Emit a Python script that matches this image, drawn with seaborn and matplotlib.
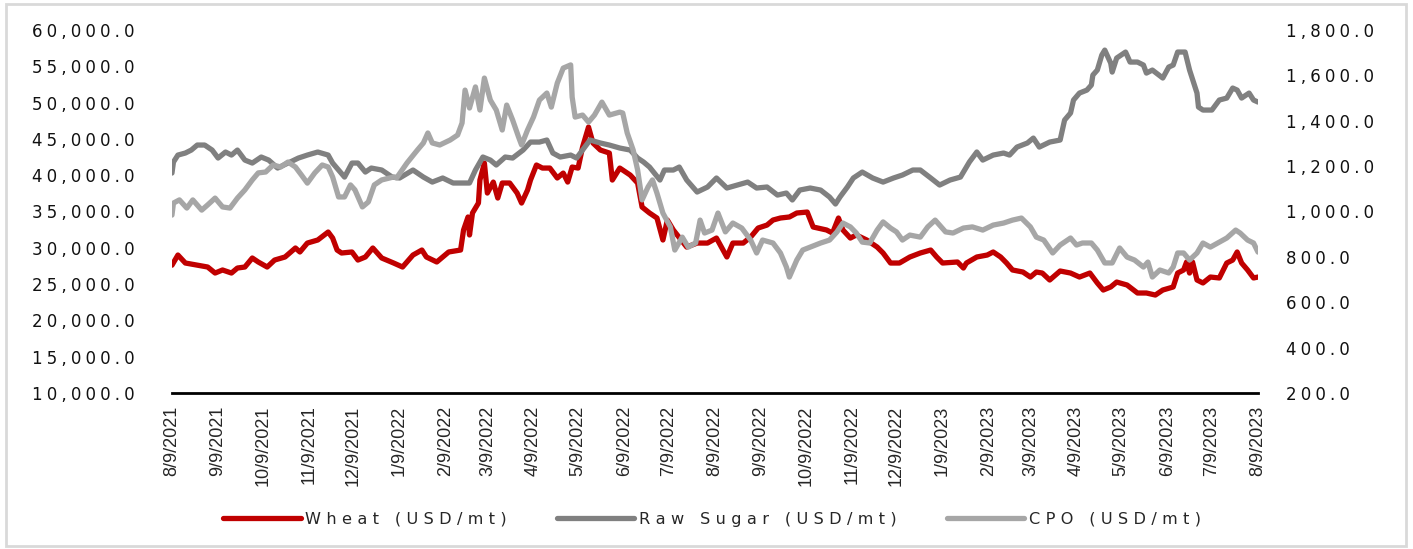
import pandas as pd
import matplotlib
matplotlib.use("Agg")
import matplotlib.pyplot as plt
import matplotlib.dates as mdates
from matplotlib.ticker import FuncFormatter, MultipleLocator
from matplotlib.patches import Rectangle
import seaborn as sns

# x values are days counted from the first date on the axis
start = pd.Timestamp("2021-08-09")
end = pd.Timestamp("2023-08-09")

wheat_day = [0, 4, 9, 17, 24, 29, 34, 40, 44, 49, 54, 58, 64, 69, 76, 83, 86, 91, 98, 105,
             108, 111, 114, 121, 125, 130, 135, 141, 149, 155, 162, 168, 171, 178, 186, 194,
             196, 199, 200, 202, 206, 207, 210, 212, 216, 219, 222, 227, 232, 235, 239, 241,
             245, 249, 254, 259, 263, 266, 269, 273, 276, 280, 283, 288, 294, 296, 301, 308,
             313, 316, 321, 326, 330, 333, 337, 346, 353, 360, 366, 373, 377, 384, 389, 394,
             400, 404, 409, 415, 420, 427, 431, 440, 444, 448, 451, 456, 460, 467, 474, 478,
             483, 489, 496, 503, 510, 514, 518, 528, 532, 534, 541, 548, 552, 557, 561, 565,
             572, 577, 581, 585, 590, 597, 604, 610, 617, 622, 626, 631, 635, 642, 649, 655,
             661, 666, 673, 676, 680, 682, 684, 686, 689, 693, 698, 704, 709, 713, 716, 719,
             723, 727, 730]
wheat_val = [27600, 29000, 27900, 27600, 27350, 26520, 26940, 26520, 27210, 27350, 28590,
             28040, 27350, 28310, 28730, 29970, 29420, 30650, 31070, 32170, 31340, 29690,
             29280, 29420, 28310, 28730, 29970, 28590, 27900, 27350, 29000, 29690, 28730,
             28040, 29420, 29690, 32450, 34240, 31760, 34790, 36160, 39330, 41670, 37540,
             39050, 36850, 38920, 38920, 37540, 36160, 37950, 39330, 41400, 40980, 40980,
             39610, 40290, 39050, 41120, 40980, 43870, 46630, 44430, 43460, 43050, 39330,
             40980, 40020, 38920, 35610, 34790, 34100, 31070, 33820, 32450, 30100, 30650,
             30650, 31340, 28730, 30650, 30650, 31480, 32720, 33130, 33820, 34100, 34240,
             34790, 34920, 32860, 32450, 32030, 34100, 32450, 31340, 31760, 31070, 30100,
             29280, 27900, 27900, 28730, 29280, 29690, 28730, 27900, 28040, 27210, 27900,
             28730, 29000, 29420, 28730, 27900, 26940, 26660, 25970, 26660, 26520, 25560,
             26800, 26520, 25970, 26520, 25150, 24180, 24600, 25280, 24870, 23770, 23770,
             23490, 24180, 24600, 26520, 26940, 28040, 26520, 28040, 25560, 25150, 25970,
             25840, 27900, 28310, 29420, 27900, 26940, 25840, 25970]

sugar_day = [0, 1, 4, 9, 13, 17, 22, 27, 31, 36, 40, 44, 49, 54, 60, 65, 71, 78, 85, 91,
             98, 105, 108, 112, 116, 121, 125, 130, 134, 141, 148, 153, 162, 169, 175, 182,
             189, 200, 204, 209, 214, 218, 224, 229, 236, 241, 247, 252, 256, 261, 268, 272,
             276, 281, 288, 294, 301, 308, 313, 317, 321, 328, 331, 337, 341, 346, 353, 360,
             366, 373, 380, 387, 393, 400, 407, 413, 417, 422, 429, 436, 442, 446, 449, 454,
             458, 464, 471, 478, 485, 491, 498, 503, 510, 516, 523, 530, 536, 541, 545, 552,
             559, 563, 568, 575, 579, 583, 590, 597, 600, 604, 606, 610, 615, 618, 619, 622,
             625, 627, 631, 632, 635, 641, 644, 649, 653, 655, 659, 666, 670, 673, 676, 681,
             684, 689, 690, 693, 699, 704, 709, 713, 716, 719, 724, 727, 730]
sugar_val = [40290, 41810, 42770, 43050, 43460, 44150, 44150, 43460, 42360, 43190, 42770,
             43460, 42080, 41670, 42500, 42080, 40980, 41670, 42360, 42770, 43190, 42770,
             41670, 40710, 39740, 41670, 41670, 40430, 40980, 40710, 39740, 39610, 40710,
             39740, 39050, 39610, 38920, 38920, 40710, 42500, 42080, 41400, 42500, 42360,
             43460, 44560, 44560, 44840, 43050, 42500, 42770, 42360, 43460, 44840, 44430,
             44150, 43740, 43460, 42360, 41810, 41120, 39330, 40710, 40710, 41120, 39330,
             37680, 38370, 39610, 38230, 38640, 39050, 38230, 38370, 37260, 37540, 36580,
             37950, 38230, 37950, 36990, 36030, 36990, 38370, 39610, 40430, 39610, 39050,
             39610, 40020, 40710, 40710, 39610, 38640, 39330, 39740, 41810, 43190, 42080,
             42770, 43050, 42770, 43870, 44430, 45110, 43870, 44560, 44840, 47590, 48560,
             50350, 51310, 51720, 52410, 53790, 54480, 56540, 57230, 55440, 54200, 56130,
             56960, 55580, 55580, 55170, 54060, 54480, 53380, 54890, 55170, 56960, 56960,
             54480, 51310, 49380, 48970, 48970, 50350, 50620, 52000, 51720, 50620, 51310,
             50350, 50070]

cpo_day = [0, 1, 5, 10, 14, 20, 24, 29, 34, 39, 44, 49, 54, 58, 63, 68, 73, 78, 83, 87,
           91, 96, 101, 105, 108, 112, 116, 120, 123, 128, 132, 136, 141, 149, 151, 158,
           165, 169, 172, 175, 180, 187, 192, 195, 197, 200, 204, 207, 210, 214, 218, 222,
           225, 229, 233, 235, 239, 243, 247, 252, 255, 259, 263, 268, 269, 271, 276, 280,
           284, 289, 294, 301, 303, 306, 310, 313, 316, 320, 323, 326, 330, 335, 338, 343,
           347, 352, 355, 358, 363, 367, 372, 377, 383, 389, 393, 397, 404, 409, 413, 415,
           420, 424, 429, 436, 442, 447, 451, 456, 460, 464, 469, 474, 478, 483, 487, 491,
           496, 503, 508, 513, 520, 525, 532, 538, 545, 552, 559, 565, 571, 577, 581, 586,
           592, 597, 599, 604, 608, 612, 618, 622, 627, 632, 637, 642, 647, 653, 656, 659,
           664, 670, 673, 676, 680, 684, 689, 693, 698, 704, 709, 715, 718, 723, 727, 730]
cpo_val = [984, 1037, 1051, 1015, 1051, 1006, 1029, 1059, 1020, 1015, 1059, 1095, 1139,
           1170, 1174, 1205, 1196, 1218, 1196, 1161, 1125, 1170, 1205, 1196, 1152, 1064,
           1064, 1117, 1095, 1020, 1042, 1117, 1139, 1152, 1148, 1214, 1271, 1302, 1346,
           1302, 1293, 1315, 1337, 1390, 1535, 1456, 1549, 1447, 1588, 1491, 1447, 1359,
           1469, 1403, 1328, 1293, 1359, 1416, 1491, 1522, 1460, 1566, 1632, 1646, 1504,
           1416, 1425, 1394, 1425, 1482, 1425, 1438, 1434, 1346, 1271, 1183, 1051, 1108,
           1139, 1081, 993, 932, 830, 887, 843, 861, 962, 905, 918, 993, 910, 949, 927, 874,
           817, 874, 861, 817, 755, 711, 786, 830, 843, 861, 874, 910, 949, 932, 905, 865,
           861, 918, 954, 927, 910, 874, 896, 887, 932, 962, 910, 905, 927, 932, 918, 940,
           949, 962, 971, 932, 887, 874, 817, 852, 861, 883, 852, 861, 861, 830, 773, 773,
           839, 799, 786, 755, 777, 711, 742, 729, 755, 817, 817, 786, 817, 861, 843, 865,
           883, 918, 905, 874, 861, 821]

labels = ["Wheat (USD/mt)", "Raw Sugar (USD/mt)", "CPO (USD/mt)"]
colors = ["#C00000", "#808080", "#A6A6A6"]


def spaced(s, gap="\u2005"):
    # the source chart draws its text with wide letter spacing
    return gap.join(s)


def frame(days, vals):
    return pd.DataFrame({"date": start + pd.to_timedelta(days, unit="D"), "value": vals})


sns.set_style("white")
plt.rcParams["font.family"] = ["DejaVu Sans"]

fig = plt.figure(figsize=(14.13, 5.49), dpi=100)
ax = fig.add_axes([0.1217, 0.2842, 0.7686, 0.6612])
ax2 = ax.twinx()

sns.lineplot(data=frame(wheat_day, wheat_val), x="date", y="value", ax=ax,
             color=colors[0], linewidth=3.8, legend=False)
sns.lineplot(data=frame(sugar_day, sugar_val), x="date", y="value", ax=ax,
             color=colors[1], linewidth=3.8, legend=False)
sns.lineplot(data=frame(cpo_day, cpo_val), x="date", y="value", ax=ax2,
             color=colors[2], linewidth=3.8, legend=False)

ax.set_xlim(start, end)
ax.set_ylim(10000, 60000)
ax2.set_ylim(200, 1800)
ax.yaxis.set_major_locator(MultipleLocator(5000))
ax2.yaxis.set_major_locator(MultipleLocator(200))
ax.yaxis.set_major_formatter(FuncFormatter(lambda v, p: spaced(f"{v:,.1f}")))
ax2.yaxis.set_major_formatter(FuncFormatter(lambda v, p: spaced(f"{v:,.1f}")))

ax.xaxis.set_major_locator(mdates.MonthLocator(bymonthday=9))


def date_label(x, pos):
    d = mdates.num2date(x)
    return f"{d.month}/{d.day}/{d.year}"


ax.xaxis.set_major_formatter(FuncFormatter(date_label))

for a in (ax, ax2):
    a.set_xlabel("")
    a.set_ylabel("")
    for s in a.spines.values():
        s.set_visible(False)
ax.spines["bottom"].set_visible(True)
ax.spines["bottom"].set_color("black")
ax.spines["bottom"].set_linewidth(2)

ax.tick_params(axis="x", direction="out", length=6, width=2, color="black",
               labelrotation=90, pad=3, labelsize=13)
for t in ax.get_xticklabels():
    t.set_fontfamily(["Liberation Sans", "DejaVu Sans"])
ax.tick_params(axis="y", length=0, pad=27, labelsize=12, labelcolor="#111111")
ax2.tick_params(axis="y", length=0, pad=20, labelsize=12, labelcolor="#111111")

handles = [ax.get_lines()[0], ax.get_lines()[1], ax2.get_lines()[0]]
fig.legend(handles, [spaced(l, "\u2004") for l in labels], loc="center",
           bbox_to_anchor=(0.504, 0.0546), ncol=3, frameon=False, fontsize=11.6,
           handlelength=4.8, handletextpad=0.3, columnspacing=3.1)

fig.patches.append(Rectangle((0.004, 0.006), 0.991, 0.986, transform=fig.transFigure,
                             fill=False, edgecolor="#D9D9D9", linewidth=2))

fig.savefig("out.png", dpi=100)
